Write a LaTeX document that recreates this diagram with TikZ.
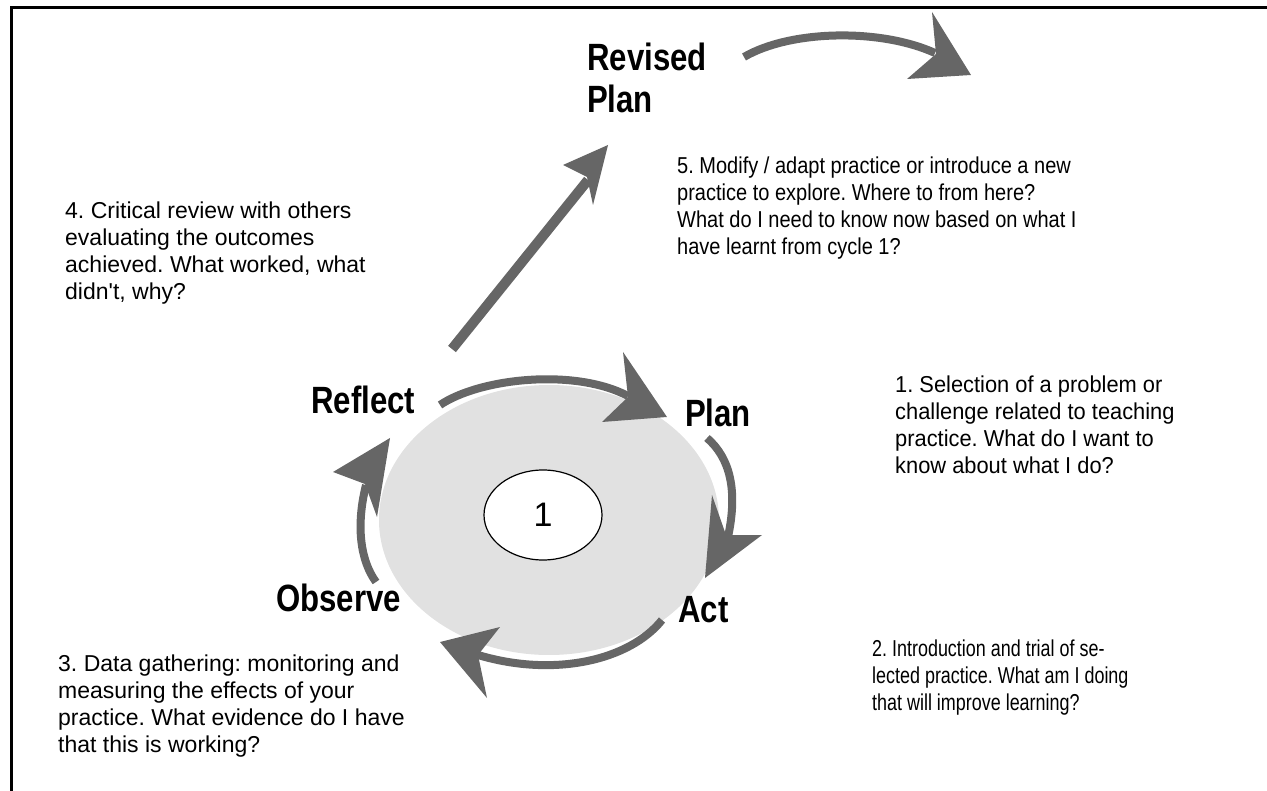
\documentclass[tikz,border=0pt]{standalone}
\usepackage{fontspec}
\usetikzlibrary{shapes.geometric}
\setmainfont{Liberation Sans}[Ligatures=TeXOff]
\newfontfamily\labelfont[FakeStretch=0.82]{Liberation Sans}
\newfontfamily\narrowfive[FakeStretch=0.87]{Liberation Sans}
\newfontfamily\narrowtwo[FakeStretch=0.78]{Liberation Sans}
\newfontfamily\narrowone[FakeStretch=0.95]{Liberation Sans}
\definecolor{arrowgray}{RGB}{102,102,102}
\definecolor{discgray}{RGB}{225,225,225}
\frenchspacing
\begin{document}
\begin{tikzpicture}[x=1pt,y=-1pt,
  lbl/.style={inner sep=0pt,anchor=north west,font=\labelfont\bfseries\fontsize{38}{42}\selectfont,align=left},
  txt/.style={inner sep=0pt,anchor=north west,font=\fontsize{23}{27}\selectfont,align=left,text=black},
  shaft/.style={draw=arrowgray,line width=8pt},
  head/.style={fill=arrowgray}]
\useasboundingbox (0,0) rectangle (1267,791);
% frame
\draw[line width=3pt] (11,791) -- (11,8) -- (1267,8);
% disc
\fill[discgray] (549,520) ellipse [x radius=170, y radius=135];
\node[draw,fill=white,ellipse,minimum width=118pt,minimum height=90pt,inner sep=0pt,line width=1.2pt,font=\fontsize{34}{34}\selectfont] (one) at (543,515) {1};
% labels
\node[lbl] (revised) at (587,43) {Revised\\Plan};
\node[lbl] (reflect) at (311,386) {Reflect};
\node[lbl] (plan) at (685,399) {Plan};
\node[lbl] (act) at (678,596) {Act};
\node[lbl] (observe) at (276,584) {Observe};
% texts
\node[txt] (t4) at (65,202) {4. Critical review with others\\evaluating the outcomes\\achieved. What worked, what\\didn't, why?};
\node[txt,font=\narrowfive\fontsize{23}{27}\selectfont] (t5) at (677,157) {5. Modify / adapt practice or introduce a new\\practice to explore. Where to from here?\\What do I need to know now based on what I\\have learnt from cycle 1?};
\node[txt,font=\narrowone\fontsize{23}{27}\selectfont] (t1) at (895,376) {1. Selection of a problem or\\challenge related to teaching\\practice. What do I want to\\know about what I do?};
\node[txt,font=\narrowtwo\fontsize{23}{27}\selectfont] (t2) at (872,640) {2. Introduction and trial of se-\\lected practice. What am I doing\\that will improve learning?};
\node[txt] (t3) at (58,655) {3. Data gathering: monitoring and\\measuring the effects of your\\practice. What evidence do I have\\that this is working?};
% arrow end points
\coordinate (rs) at (744,57);
\coordinate (re) at (935,53);
\coordinate (ss) at (452,349);
\coordinate (se) at (588,180);
% revised plan arrow
\draw[shaft] (rs) .. controls (790,30) and (880,28) .. (re);
\fill[head] (971,75) -- (907,79) -- (936,54) -- (932,12) -- cycle;
% reflect -> revised plan
\draw[shaft,line width=10pt] (ss) -- (se);
\fill[head] (608,145) -- (563,165) -- (587,177) -- (593,205) -- cycle;
% cycle arcs
\draw[shaft] (440,405) .. controls (480,378) and (575,368) .. (628,396);
\fill[head] (623,352) -- (667,417) -- (602,422) -- (628,397) -- cycle;
\draw[shaft] (707,438) .. controls (730,458) and (738,490) .. (728,537);
\fill[head] (712,495) -- (726,535) -- (762,535) -- (705,578) -- cycle;
\draw[shaft] (662,620) .. controls (630,660) and (555,678) .. (478,655);
\fill[head] (440,642) -- (500,627) -- (478,655) -- (487,698) -- cycle;
\draw[shaft] (376,582) .. controls (360,560) and (356,525) .. (366,485);
\fill[head] (390,438) -- (377,517) -- (365,484) -- (333,472) -- cycle;
\end{tikzpicture}
\end{document}
